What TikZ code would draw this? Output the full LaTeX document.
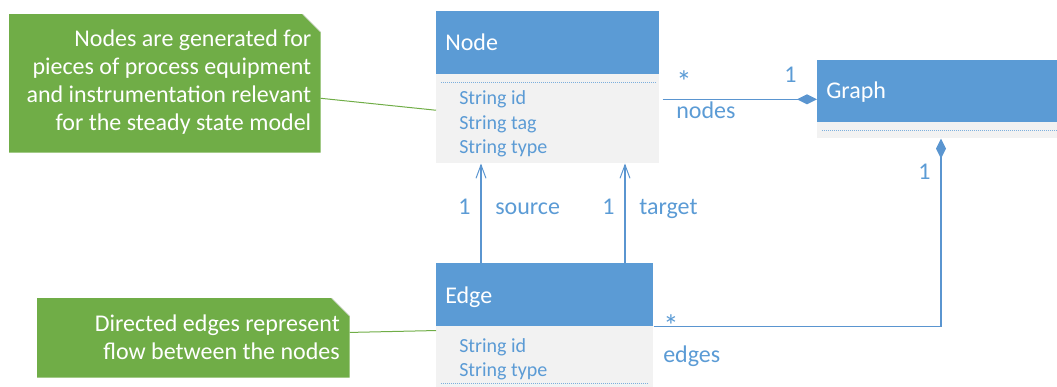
\documentclass[tikz,border=0pt]{standalone}
\usepackage{fontspec}
\setmainfont{Carlito}
\usetikzlibrary{arrows.meta}
\definecolor{hdrblue}{HTML}{5B9BD5}
\definecolor{bodygray}{HTML}{F2F2F2}
\definecolor{notegreen}{HTML}{70AD47}
\definecolor{linkblue}{HTML}{5A95D0}
\begin{document}
\begin{tikzpicture}[x=0.75pt,y=-0.75pt,
  hdr/.style={fill=hdrblue,draw=none,anchor=north west,inner sep=0pt},
  cbody/.style={fill=bodygray,draw=none,anchor=north west,inner sep=0pt},
  title/.style={anchor=base west,inner sep=0pt,text=white,font=\fontsize{18}{21}\selectfont},
  attr/.style={anchor=base west,inner sep=0pt,text=hdrblue,font=\fontsize{15}{18}\selectfont},
  lbl/.style={anchor=base west,inner sep=0pt,text=hdrblue,font=\fontsize{18}{21}\selectfont},
  star/.style={anchor=base west,inner sep=0pt,text=hdrblue,font=\fontsize{23}{26}\selectfont},
  dotline/.style={draw=hdrblue!80,line width=0.6pt,dash pattern=on 0.75pt off 0.75pt},
  link/.style={draw=linkblue,line width=0.9pt},
  notebox/.style={draw=none,anchor=north west,inner sep=0pt},
  notetext/.style={anchor=base east,inner sep=0pt,text=white,font=\fontsize{18}{21}\selectfont},
  notelink/.style={draw=notegreen,line width=0.75pt},
  comp/.style={-{Diamond[length=15pt,width=7.5pt]}},
  nav/.style={-{Straight Barb[length=10pt,width=7.5pt,line width=0.75pt]}}]

\useasboundingbox (0,0) rectangle (1057,386);
\clip (0,0) rectangle (1057,386);

% class Node
\node[hdr,minimum width=167.25pt,minimum height=47.25pt] (nodeHead) at (436,11) {};
\node[cbody,minimum width=167.25pt,minimum height=66.75pt] (nodeBody) at (436,74) {};
\node[title] (nodeTitle) at (445,50) {Node};
\draw[dotline] ([xshift=3.75pt,yshift=-6pt]nodeBody.north west) -- ([xshift=-3pt,yshift=-6pt]nodeBody.north east);
\node[attr] (nodeA1) at (459,104) {String id};
\node[attr] (nodeA2) at (459,129) {String tag};
\node[attr] (nodeA3) at (459,153.5) {String type};

% class Graph
\node[hdr,minimum width=187.5pt,minimum height=46.5pt] (graphHead) at (817,60) {};
\node[cbody,minimum width=187.5pt,minimum height=12pt] (graphBody) at (817,122) {};
\node[title] (graphTitle) at (826,98) {Graph};
\draw[dotline] ([xshift=3.75pt,yshift=-6.4pt]graphBody.north west) -- ([yshift=-6.4pt]graphBody.north east);

% class Edge
\node[hdr,minimum width=162.75pt,minimum height=47.25pt] (edgeHead) at (436,263) {};
\node[cbody,minimum width=162.75pt,minimum height=46.5pt] (edgeBody) at (436,326) {};
\node[title] (edgeTitle) at (445,303) {Edge};
\node[attr] (edgeA1) at (459,352.5) {String id};
\node[attr] (edgeA2) at (459,376.5) {String type};
\draw[dotline] ([xshift=3.75pt,yshift=-42.75pt]edgeBody.north west) -- ([xshift=-4.5pt,yshift=-42.75pt]edgeBody.north east);

% associations
\draw[link,comp] ([xshift=2.25pt,yshift=-6pt]nodeHead.south east |- graphHead.west) -- ([yshift=-6pt]graphHead.west);
\draw[link,comp] (edgeHead.south east) -| ([xshift=93pt]graphBody.south west);
\draw[link,nav] ([xshift=33.75pt]edgeHead.north west) -- ([xshift=33.75pt]nodeBody.south west);
\draw[link,nav] ([xshift=141.75pt]edgeHead.north west) -- ([xshift=141.75pt]nodeBody.south west);

% multiplicities and role names
\node[star] (mStarNodes) at (676,92) {*};
\node[lbl] (roleNodes) at (676,118) {nodes};
\node[lbl] (mOneGraphA) at (784,82) {1};
\node[lbl] (mOneGraphB) at (918,179) {1};
\node[star] (mStarEdges) at (663,336) {*};
\node[lbl] (roleEdges) at (663,362) {edges};
\node[lbl] (mOneSrc) at (458,214) {1};
\node[lbl] (roleSrc) at (495,214) {source};
\node[lbl] (mOneTgt) at (602,214) {1};
\node[lbl] (roleTgt) at (639,214) {target};

% comment notes
\node[notebox,minimum width=233.25pt,minimum height=103.5pt] (noteA) at (9,14) {};
\fill[notegreen] (noteA.north west) -- ([xshift=-13.5pt]noteA.north east) -- ([yshift=-13.5pt]noteA.north east) -- (noteA.south east) -- (noteA.south west) -- cycle;
\draw[black!12,line width=0.5pt] ([xshift=-13.5pt]noteA.north east) -- ([yshift=-13.5pt]noteA.north east);
\node[notetext] (noteA1) at (311.5,46.7) {Nodes are generated for};
\node[notetext] (noteA2) at (311.5,74.7) {pieces of process equipment};
\node[notetext] (noteA3) at (311.5,102.7) {and instrumentation relevant};
\node[notetext] (noteA4) at (311.5,130.7) {for the steady state model};

\node[notebox,minimum width=234pt,minimum height=59.25pt] (noteB) at (37,298) {};
\fill[notegreen] (noteB.north west) -- ([xshift=-13.5pt]noteB.north east) -- ([yshift=-13.5pt]noteB.north east) -- (noteB.south east) -- (noteB.south west) -- cycle;
\draw[black!12,line width=0.5pt] ([xshift=-13.5pt]noteB.north east) -- ([yshift=-13.5pt]noteB.north east);
\node[notetext] (noteB1) at (340,331) {Directed edges represent};
\node[notetext] (noteB2) at (340,359) {flow between the nodes};

\draw[notelink] ([yshift=-11.25pt]noteA.east) -- ([yshift=6.4pt]nodeBody.west);
\draw[notelink] ([yshift=4pt]noteB.east) -- ([yshift=-3pt]edgeHead.south west);
\end{tikzpicture}
\end{document}
